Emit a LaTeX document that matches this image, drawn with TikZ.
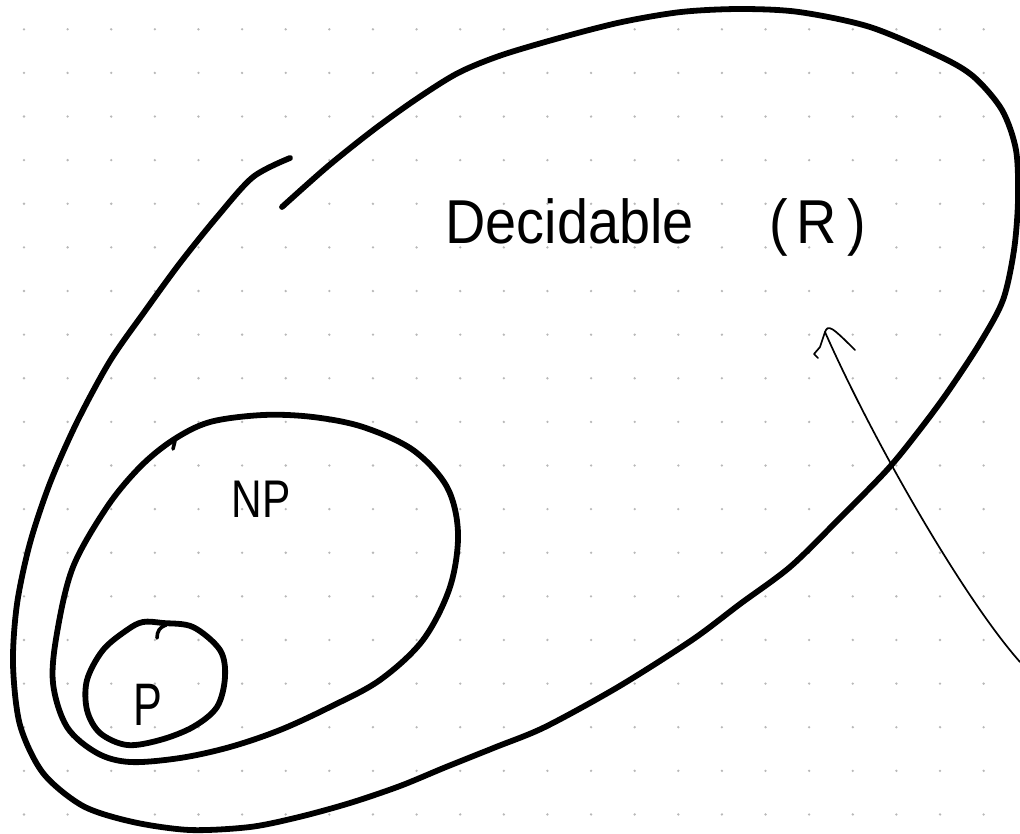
\documentclass[tikz,border=0pt]{standalone}
\usepackage{fontspec}
\setmainfont{Liberation Sans}
\begin{document}
\begin{tikzpicture}[x=1pt,y=-1pt,
  griddot/.style={fill=black!28,draw=none},
  region/.style={draw=black,line width=5.8pt,line cap=round,line join=round},
  thinline/.style={draw=black,line width=1.7pt,line cap=round,line join=round},
  hand/.style={inner sep=0pt,text=black}]
\useasboundingbox (0,0) rectangle (1020,833);
\fill[white] (0,0) rectangle (1020,833);
% dotted grid
\foreach \i in {0,...,22}{
  \foreach \j in {0,...,18}{
    \fill[griddot] ({24+43.62*\i},{29.3+43.62*\j}) circle (1.3);
  }
}
% Decidable region (one open hand-drawn loop)
\draw[region] plot[smooth,tension=0.5] coordinates {
 (290,158) (253,177) (217,217) (180,263) (145,311) (110,361) (77,422)
 (50,483) (30,543) (17,604) (13,664) (20,725) (43,773) (83,806) (133,822)
 (190,830) (250,827) (299,817) (350,803) (400,786) (446,767) (496,747)
 (545,727) (618,687) (692,640) (740,604) (790,567) (838,520) (887,470)
 (918,432) (947,393) (980,343) (1003,300) (1014,250) (1018,200)
 (1016,150) (1002,110) (974,77) (941,57) (870,27) (799,12) (740,9)
 (681,12) (622,22) (563,37) (502,55) (458,73) (415,100) (372,131)
 (327,167) (282,207)};
% NP region
\draw[region] plot[smooth cycle,tension=0.55] coordinates {
 (210,422) (263,415) (313,417) (363,427) (413,450) (447,487) (458,533)
 (450,587) (423,640) (380,680) (330,707) (280,730) (230,747) (180,758)
 (130,762) (97,753) (67,727) (53,683) (57,633) (73,567) (107,507)
 (140,467) (173,440)};
\draw[region,line width=3.6pt] (175,441) -- (173,449);
% P region
\draw[region] plot[smooth cycle,tension=0.55] coordinates {
 (143,622) (163,623) (193,627) (220,650) (225,677) (217,707) (193,727)
 (160,740) (127,745) (100,733) (87,710) (87,680) (103,650) (127,630)};
\draw[region,line width=3.6pt] (157,638) .. controls (157,631) and (160,627) .. (166,625);
% labels
\node[hand,font=\fontsize{62}{68}\selectfont] (dec) at (656,227)
  {\scalebox{0.9}[1]{Decidable\hspace{84pt}(\hspace{10pt}R\hspace{12pt})}};
\node[hand,font=\fontsize{53}{58}\selectfont] (np) at (261,499)
  {\scalebox{0.8}[1]{NP}};
\node[hand,font=\fontsize{60}{64}\selectfont] (p) at (148,705)
  {\scalebox{0.72}[1]{P}};
% pointer line
\coordinate (src) at (1020,662);
\coordinate (tip) at (825,332);
\draw[thinline] (src) .. controls (965,600) and (875,445) .. (tip);
\draw[thinline] (818,358) -- (814,354) -- (820,347) -- (tip)
  .. controls (828,324) and (832,327) .. (855,350);
\end{tikzpicture}
\end{document}
